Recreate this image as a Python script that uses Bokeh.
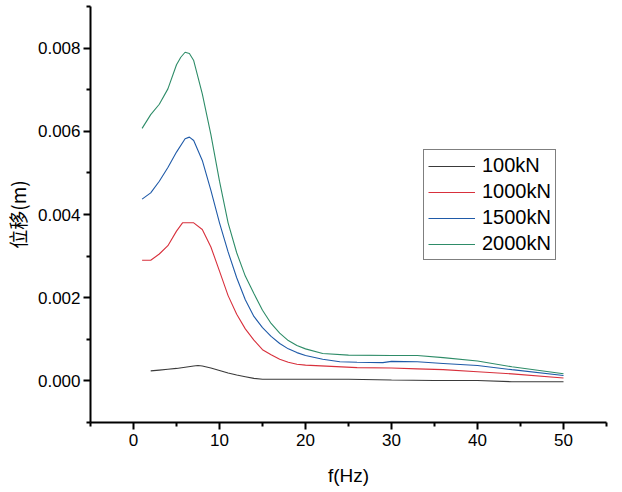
from bokeh.plotting import figure
from bokeh.models import Range1d, FixedTicker, PrintfTickFormatter, Legend, LegendItem
from bokeh.embed import file_html
from bokeh.resources import INLINE

# ---- data ----
x_100 = [2, 3, 4, 5, 6, 7, 7.5, 8, 9, 10, 11, 12, 13, 14, 15, 20, 25, 30, 35, 40, 44, 50]
y_100 = [0.00024, 0.00026, 0.00028, 0.00030, 0.00033, 0.00036, 0.00037, 0.00036, 0.00031,
         0.00025, 0.00019, 0.00014, 0.00010, 0.00006, 0.00004, 0.00004, 0.00004, 0.00002,
         0.00001, 0.00001, -0.00002, -0.00002]

x_1000 = [1, 2, 3, 4, 5, 5.7, 7, 8, 9, 10, 11, 12, 13, 14, 15, 16, 17, 18, 19, 20, 23, 26,
          30, 33, 36, 40, 44, 50]
y_1000 = [0.00290, 0.00290, 0.00305, 0.00325, 0.00360, 0.00380, 0.00380, 0.00364, 0.00322,
          0.00264, 0.00205, 0.00160, 0.00125, 0.00098, 0.00075, 0.00063, 0.00052, 0.00045,
          0.00040, 0.00038, 0.00035, 0.00032, 0.00031, 0.00029, 0.00027, 0.00022, 0.00017,
          0.00007]

x_1500 = [1, 2, 3, 4, 5, 6, 6.5, 7, 8, 9, 10, 11, 12, 13, 14, 15, 16, 17, 18, 19, 20, 22,
          24, 26, 29, 30, 33, 36, 40, 44, 50]
y_1500 = [0.00437, 0.00452, 0.00480, 0.00513, 0.00550, 0.00582, 0.00586, 0.00578, 0.00530,
          0.00458, 0.00380, 0.00310, 0.00248, 0.00195, 0.00155, 0.00128, 0.00107, 0.00090,
          0.00077, 0.00068, 0.00061, 0.00052, 0.00046, 0.00045, 0.00044, 0.00047, 0.00046,
          0.00042, 0.00037, 0.00027, 0.00013]

x_2000 = [1, 2, 3, 4, 5, 5.5, 6, 6.5, 7, 8, 9, 10, 11, 12, 13, 14, 15, 16, 17, 18, 19, 20,
          22, 25, 30, 33, 36, 40, 44, 50]
y_2000 = [0.00607, 0.00640, 0.00665, 0.00702, 0.00760, 0.00778, 0.00790, 0.00787, 0.00770,
          0.00690, 0.00592, 0.00480, 0.00380, 0.00308, 0.00252, 0.00210, 0.00170, 0.00138,
          0.00115, 0.00097, 0.00085, 0.00077, 0.00066, 0.00062, 0.00061, 0.00061, 0.00056,
          0.00048, 0.00034, 0.00017]

series_names = ["100kN", "1000kN", "1500kN", "2000kN"]
series_colors = ["#3a3a3a", "#d8303c", "#1f5aa8", "#2e8c68"]

x_major = [0, 10, 20, 30, 40, 50]
x_minor = [-5, 5, 15, 25, 35, 45, 55]
y_major = [0.000, 0.002, 0.004, 0.006, 0.008]
y_minor = [-0.001, 0.001, 0.003, 0.005, 0.007, 0.009]

FONT = "Liberation Sans"

p = figure(width=622, height=492,
           x_range=Range1d(-5, 55), y_range=Range1d(-0.001, 0.009),
           output_backend="svg", toolbar_location=None,
           min_border_left=90, min_border_right=16, min_border_top=6, min_border_bottom=70)

p.outline_line_color = None
p.xgrid.visible = False
p.ygrid.visible = False
p.background_fill_color = "white"

renderers = []
for xs, ys, col in zip([x_100, x_1000, x_1500, x_2000],
                       [y_100, y_1000, y_1500, y_2000], series_colors):
    r = p.line(xs, ys, line_color=col, line_width=1.1)
    renderers.append(r)

for ax in (p.xaxis[0], p.yaxis[0]):
    ax.axis_line_width = 2
    ax.axis_line_color = "black"
    ax.major_tick_line_width = 2
    ax.minor_tick_line_width = 2
    ax.major_tick_line_color = "black"
    ax.minor_tick_line_color = "black"
    ax.major_tick_out = 7
    ax.major_tick_in = 0
    ax.minor_tick_out = 4
    ax.minor_tick_in = 0
    ax.major_label_text_font = FONT
    ax.major_label_text_font_size = "17px"
    ax.major_label_text_color = "black"
    ax.axis_label_text_font_style = "normal"
    ax.axis_label_text_color = "black"

p.xaxis[0].ticker = FixedTicker(ticks=x_major, minor_ticks=x_minor)
p.yaxis[0].ticker = FixedTicker(ticks=y_major, minor_ticks=y_minor)
p.yaxis[0].formatter = PrintfTickFormatter(format="%.3f")

p.xaxis[0].axis_label = "f(Hz)"
p.xaxis[0].axis_label_text_font = FONT
p.xaxis[0].axis_label_text_font_size = "19px"
p.xaxis[0].axis_label_standoff = 16
p.xaxis[0].major_label_standoff = 4

p.yaxis[0].axis_label = "位移(m)"
p.yaxis[0].axis_label_text_font = "Noto Sans CJK SC"
p.yaxis[0].axis_label_text_font_size = "19px"
p.yaxis[0].axis_label_standoff = 4
p.yaxis[0].major_label_standoff = 3

items = [LegendItem(label=n, renderers=[r]) for n, r in zip(series_names, renderers)]
legend = Legend(items=items, location=(333, 162))
legend.label_text_font = FONT
legend.label_text_font_size = "20px"
legend.label_text_color = "black"
legend.glyph_width = 47
legend.glyph_height = 20
legend.label_height = 20
legend.label_standoff = 7
legend.spacing = 3
legend.padding = 4
legend.margin = 0
legend.border_line_color = "black"
legend.border_line_width = 1
legend.background_fill_alpha = 1
p.add_layout(legend)

open("out.html", "w").write(file_html(p, INLINE))
